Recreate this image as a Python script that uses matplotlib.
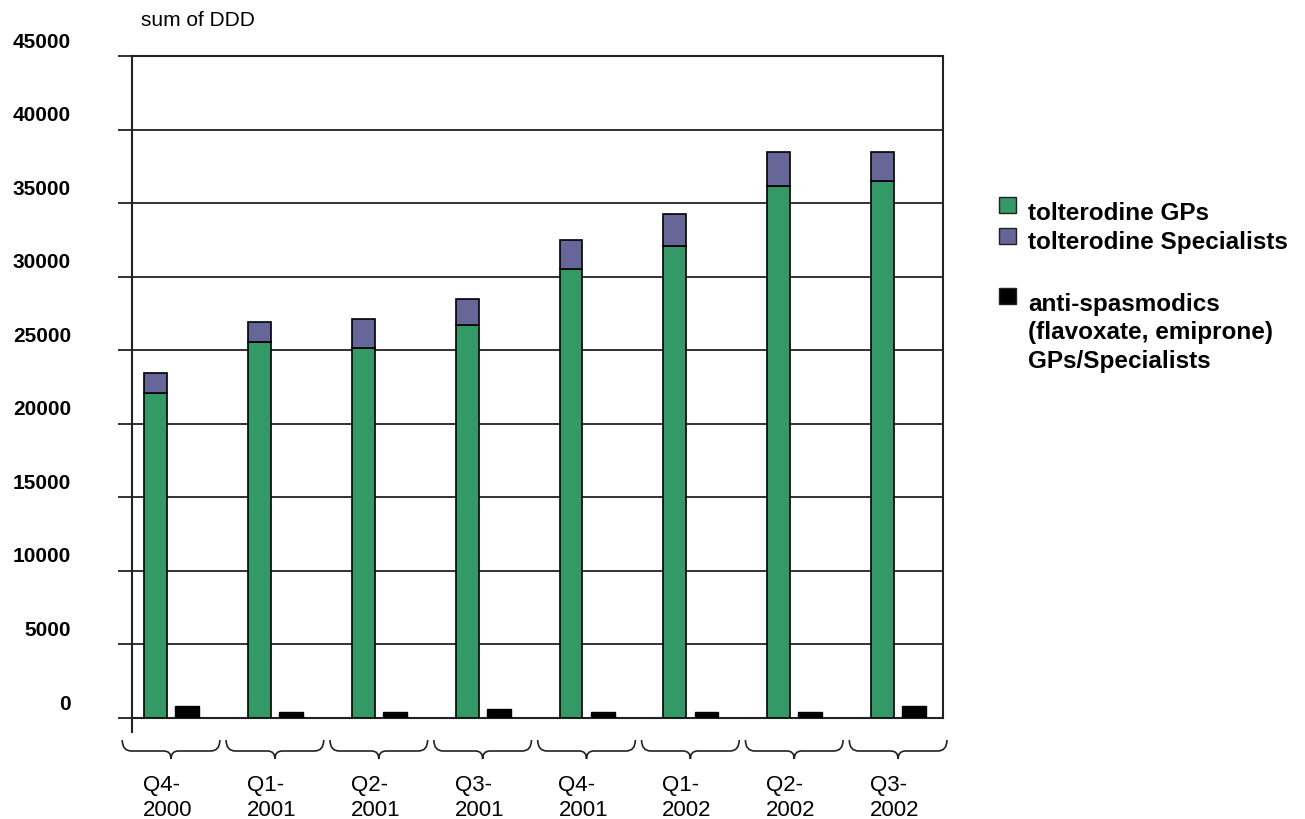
import numpy as np
import matplotlib.pyplot as plt
from matplotlib.path import Path
from matplotlib.patches import PathPatch, Rectangle
from matplotlib.transforms import ScaledTranslation, blended_transform_factory
from matplotlib.lines import Line2D

plt.rcParams['font.family'] = ['Liberation Sans', 'DejaVu Sans']

# data (sum of DDD per quarter)
quarters = ['Q4-\n2000', 'Q1-\n2001', 'Q2-\n2001', 'Q3-\n2001',
            'Q4-\n2001', 'Q1-\n2002', 'Q2-\n2002', 'Q3-\n2002']
tolt_gps = [22100, 25550, 25150, 26700, 30500, 32100, 36150, 36500]
tolt_spec = [1350, 1350, 1950, 1750, 2000, 2150, 2300, 1950]
anti_spas = [800, 400, 400, 600, 400, 400, 400, 800]
series_names = ['tolterodine GPs', 'tolterodine Specialists',
                'anti-spasmodics\n(flavoxate, emiprone)\nGPs/Specialists']
colors = ['#339966', '#666699', '#000000']
yticks = np.arange(0, 45001, 5000)

W, H = 1305, 819
fig = plt.figure(figsize=(W / 100, H / 100), dpi=100)
ax = fig.add_axes([132 / W, 1 - 718 / H, (943 - 132) / W, (718 - 56) / H])

x = np.arange(len(quarters))
bw = 0.22
ax.bar(x, tolt_gps, width=bw, color=colors[0], edgecolor='black', linewidth=1.2, zorder=3)
ax.bar(x, tolt_spec, width=bw, bottom=tolt_gps, color=colors[1], edgecolor='black',
       linewidth=1.2, zorder=3)
ax.bar(x + 0.305, anti_spas, width=0.23, color=colors[2], edgecolor='black',
       linewidth=1, zorder=3)

ax.set_xlim(-0.226, 7.582)
ax.set_ylim(0, 45000)
ax.set_xticks([])
ax.set_yticks(yticks)
ax.set_yticklabels([str(v) for v in yticks], fontsize=15, fontweight='bold')
ax.tick_params(axis='y', length=10, width=1.3, direction='out', pad=34, color='#222222')
off = ScaledTranslation(0, 0.16, fig.dpi_scale_trans)
for lab in ax.get_yticklabels():
    lab.set_transform(lab.get_transform() + off)
ax.grid(axis='y', color='#222222', linewidth=1.3, zorder=0)
for s in ax.spines.values():
    s.set_color('#222222')
    s.set_linewidth(1.5)

# y axis line continues a little below zero
ax.add_line(Line2D([0, 0], [0, -14 / 662], transform=ax.transAxes, color='#222222',
                   linewidth=1.5, clip_on=False))

fig.text(141 / W, 1 - 21 / H, 'sum of DDD', fontsize=15, ha='left', va='center')

# curly braces and category labels under the axis
tr = blended_transform_factory(ax.transData, fig.transFigure)
y_top, y_mid, y_tip = 1 - 740 / H, 1 - 751 / H, 1 - 759 / H
for i, q in enumerate(quarters):
    c = i + 0.15
    half = 0.47
    k = 0.09
    verts = [(c - half, y_top), (c - half, y_mid), (c - half + k, y_mid),
             (c - 0.07, y_mid), (c, y_mid), (c, y_tip),
             (c, y_mid), (c + 0.07, y_mid),
             (c + half - k, y_mid), (c + half, y_mid), (c + half, y_top)]
    codes = [Path.MOVETO, Path.CURVE3, Path.CURVE3,
             Path.LINETO, Path.CURVE3, Path.CURVE3,
             Path.CURVE3, Path.CURVE3,
             Path.LINETO, Path.CURVE3, Path.CURVE3]
    fig.add_artist(PathPatch(Path(verts, codes), transform=tr, fill=False,
                             edgecolor='#222222', linewidth=1.2))
    ax.text(c - 0.27, 1 - 798 / H, q, transform=tr, fontsize=16, ha='left',
            va='center', linespacing=1.25)

# legend drawn by hand
leg_y = [205, 236, 296]
text_y = [213, 242, 333]
for name, col, sy, ty in zip(series_names, colors, leg_y, text_y):
    fig.add_artist(Rectangle((999 / W, 1 - (sy + 8) / H), 17 / W, 16 / H,
                             transform=fig.transFigure, facecolor=col,
                             edgecolor='#222222', linewidth=1))
    fig.text(1028 / W, 1 - ty / H, name, fontsize=17.5, fontweight='bold',
             ha='left', va='center', linespacing=1.3)

fig.savefig('out.png', dpi=100)
